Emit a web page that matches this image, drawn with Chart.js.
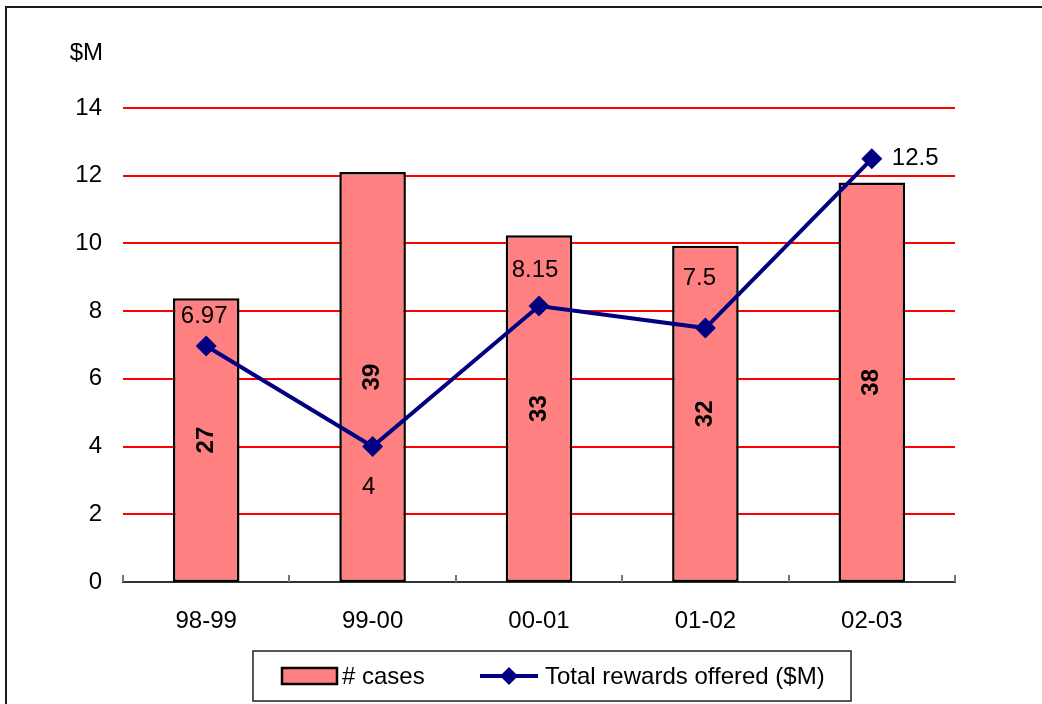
<!DOCTYPE html>
<html>
<head>
<meta charset="utf-8">
<script src="https://cdn.jsdelivr.net/npm/chart.js@4"></script>
<style>
  html, body { margin: 0; padding: 0; background: #fff; }
  canvas { display: block; }
</style>
</head>
<body>
<canvas id="c" width="1042" height="704"></canvas>
<script>
const categories = ['98-99', '99-00', '00-01', '01-02', '02-03'];
const cases = [27, 39, 33, 32, 38];
const rewards = [6.97, 4, 8.15, 7.5, 12.5];
const yTickValues = [0, 2, 4, 6, 8, 10, 12, 14];
const casesLabel = '# cases';
const rewardsLabel = 'Total rewards offered ($M)';
const yUnitLabel = '$M';

const FONT = "'Liberation Sans', Arial, sans-serif";
const BAR_FILL = '#FF8080';
const LINE_COL = '#000080';

// label placement for line values (style only): [dx, dy, align]
const rewardLabelPlacement = [
  [-2, -30, 'center'],
  [-4, 41, 'center'],
  [-4, -36, 'center'],
  [-6, -50, 'center'],
  [20, 0, 'left']
];

const decorPlugin = {
  id: 'decor',
  afterDatasetsDraw(chart) {
    const ctx = chart.ctx;
    const area = chart.chartArea;
    ctx.save();
    // x-axis tick marks (inside, at category boundaries)
    ctx.strokeStyle = '#777';
    ctx.lineWidth = 2;
    const n = categories.length;
    const step = (area.right - area.left) / n;
    for (let i = 0; i <= n; i++) {
      const px = Math.round(area.left + i * step);
      ctx.beginPath();
      ctx.moveTo(px, area.bottom);
      ctx.lineTo(px, area.bottom - 7);
      ctx.stroke();
    }
    // bar value labels (rotated, bold)
    const barMeta = chart.getDatasetMeta(1);
    ctx.fillStyle = '#000';
    ctx.font = 'bold 24px ' + FONT;
    ctx.textAlign = 'center';
    ctx.textBaseline = 'middle';
    barMeta.data.forEach((el, i) => {
      const cy = (el.y + el.base) / 2;
      ctx.save();
      ctx.translate(el.x, cy);
      ctx.rotate(-Math.PI / 2);
      ctx.fillText(String(cases[i]), 0, 0);
      ctx.restore();
    });
    ctx.restore();
  },
  afterDraw(chart) {
    const ctx = chart.ctx;
    ctx.save();
    // line value labels
    const lineMeta = chart.getDatasetMeta(0);
    ctx.fillStyle = '#000';
    ctx.font = '24px ' + FONT;
    ctx.textBaseline = 'middle';
    lineMeta.data.forEach((el, i) => {
      const p = rewardLabelPlacement[i];
      ctx.textAlign = p[2];
      ctx.fillText(String(rewards[i]), el.x + p[0], el.y + p[1]);
    });
    // $M unit label
    ctx.textAlign = 'right';
    ctx.fillText(yUnitLabel, 103, 53);

    // legend
    ctx.strokeStyle = '#222';
    ctx.lineWidth = 1.5;
    ctx.strokeRect(253, 651, 598, 50);
    ctx.fillStyle = BAR_FILL;
    ctx.fillRect(282, 668, 55, 16);
    ctx.strokeStyle = '#000';
    ctx.lineWidth = 2.5;
    ctx.strokeRect(282, 668, 55, 16);
    ctx.fillStyle = '#000';
    ctx.textAlign = 'left';
    ctx.fillText(casesLabel, 342, 677);
    ctx.strokeStyle = LINE_COL;
    ctx.lineWidth = 4;
    ctx.beginPath();
    ctx.moveTo(480, 676);
    ctx.lineTo(538, 676);
    ctx.stroke();
    ctx.fillStyle = LINE_COL;
    ctx.beginPath();
    ctx.moveTo(509, 667);
    ctx.lineTo(518, 676);
    ctx.lineTo(509, 685);
    ctx.lineTo(500, 676);
    ctx.closePath();
    ctx.fill();
    ctx.fillStyle = '#000';
    ctx.fillText(rewardsLabel, 545, 677);

    // outer frame (left and top edges visible)
    ctx.strokeStyle = '#1a1a1a';
    ctx.lineWidth = 2;
    ctx.beginPath();
    ctx.moveTo(6, 704);
    ctx.lineTo(6, 7);
    ctx.lineTo(1042, 7);
    ctx.stroke();
    ctx.restore();
  }
};

Chart.defaults.font.family = FONT;
Chart.defaults.font.size = 24;
Chart.defaults.color = '#000';

new Chart(document.getElementById('c'), {
  data: {
    labels: categories,
    datasets: [
      {
        type: 'line',
        label: rewardsLabel,
        data: rewards,
        yAxisID: 'y',
        borderColor: LINE_COL,
        backgroundColor: LINE_COL,
        borderWidth: 4,
        tension: 0,
        pointStyle: 'rectRot',
        pointRadius: 10.5,
        pointBorderWidth: 0,
        pointBackgroundColor: LINE_COL,
        order: 0
      },
      {
        type: 'bar',
        label: casesLabel,
        data: cases,
        yAxisID: 'y2',
        backgroundColor: BAR_FILL,
        borderColor: '#000',
        borderWidth: 2.5,
        borderSkipped: false,
        categoryPercentage: 1,
        barPercentage: 0.4,
        order: 1
      }
    ]
  },
  options: {
    responsive: false,
    animation: false,
    devicePixelRatio: 1,
    layout: { padding: { left: 0, right: 87, top: 108, bottom: 0 } },
    plugins: {
      legend: { display: false },
      tooltip: { enabled: false },
      title: { display: false }
    },
    scales: {
      x: {
        offset: true,
        grid: { display: true, color: 'rgba(0,0,0,0)', drawTicks: false },
        border: { display: true, color: '#333', width: 2 },
        ticks: { padding: 25, font: { size: 24 }, color: '#000' },
        afterFit(s) { s.height = 122; }
      },
      y: {
        position: 'left',
        min: 0,
        max: 14,
        afterBuildTicks(s) { s.ticks = yTickValues.map(v => ({ value: v })); },
        grid: {
          color: c => (c.tick && c.tick.value === 0) ? 'rgba(0,0,0,0)' : '#FF0000',
          lineWidth: 2,
          drawTicks: false
        },
        border: { display: false },
        ticks: { padding: 21, font: { size: 24 }, color: '#000' },
        afterFit(s) { s.width = 123; }
      },
      y2: {
        display: false,
        min: 0,
        max: 45.1
      }
    }
  },
  plugins: [decorPlugin]
});
</script>
</body>
</html>
